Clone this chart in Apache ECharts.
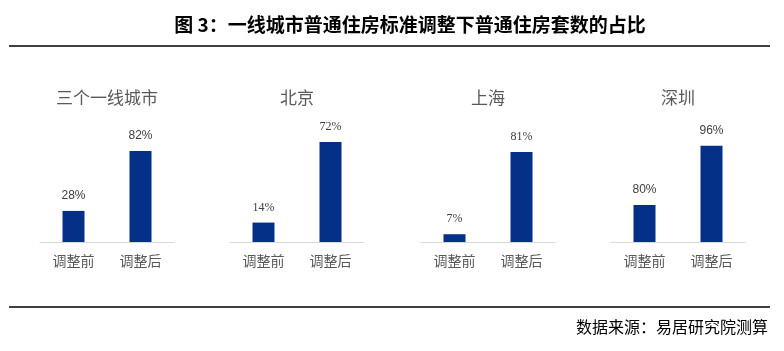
<!DOCTYPE html>
<html>
<head>
<meta charset="utf-8">
<script src="https://cdn.jsdelivr.net/npm/echarts@6/dist/echarts.min.js"></script>
<style>
  html, body { margin: 0; padding: 0; background: #fff; }
  #main { width: 784px; height: 351px; }
</style>
</head>
<body>
<div id="main"></div>
<script>
// 数据
var cities = ['三个一线城市', '北京', '上海', '深圳'];
var categories = ['调整前', '调整后'];
var beforeShare = [28, 14, 7, 80];
var afterShare = [82, 72, 81, 96];
var axisMin = [0, 0, 0, 70];
var axisMax = [100, 80, 100, 100];

// 每个小图的位置
var panelLeft = [40, 230, 421, 611];
var panelWidth = 134;
var labelFonts = ['Liberation Sans', 'Liberation Serif', 'Liberation Serif', 'Liberation Sans'];
var cjk = '"Noto Sans CJK SC", sans-serif';

var chart = echarts.init(document.getElementById('main'));

var grids = [], xAxes = [], yAxes = [], series = [], texts = [];
for (var i = 0; i < cities.length; i++) {
  grids.push({ left: panelLeft[i], top: 131, width: panelWidth, height: 111 });
  xAxes.push({
    type: 'category',
    gridIndex: i,
    data: categories,
    axisLine: { lineStyle: { color: '#d9d9d9', width: 1 } },
    axisTick: { show: false },
    axisLabel: { color: '#595959', fontSize: 14, fontFamily: cjk, margin: 12 }
  });
  yAxes.push({
    type: 'value',
    gridIndex: i,
    min: axisMin[i],
    max: axisMax[i],
    show: false,
    splitLine: { show: false }
  });
  series.push({
    type: 'bar',
    xAxisIndex: i,
    yAxisIndex: i,
    barWidth: 22,
    data: [beforeShare[i], afterShare[i]],
    itemStyle: { color: '#053088' },
    label: {
      show: true,
      position: 'top',
      distance: 9,
      formatter: '{c}%',
      color: '#404040',
      fontSize: 12,
      fontFamily: labelFonts[i]
    },
    silent: true
  });
  texts.push({
    type: 'text',
    x: panelLeft[i] + panelWidth / 2,
    y: 98,
    style: {
      text: cities[i],
      fill: '#595959',
      font: '17px ' + cjk,
      textAlign: 'center',
      textVerticalAlign: 'middle'
    }
  });
}

// 标题、分隔线、数据来源
texts.push({
  type: 'text', x: 410, y: 25,
  style: {
    text: '图 3：一线城市普通住房标准调整下普通住房套数的占比',
    fill: '#000', font: 'bold 19px ' + cjk,
    textAlign: 'center', textVerticalAlign: 'middle'
  }
});
texts.push({
  type: 'line', shape: { x1: 9, y1: 46, x2: 770, y2: 46 },
  style: { stroke: '#000', lineWidth: 1.5 }
});
texts.push({
  type: 'line', shape: { x1: 9, y1: 307, x2: 770, y2: 307 },
  style: { stroke: '#000', lineWidth: 1.5 }
});
texts.push({
  type: 'text', x: 768, y: 327,
  style: {
    text: '数据来源：易居研究院测算',
    fill: '#000', font: '16px ' + cjk,
    textAlign: 'right', textVerticalAlign: 'middle'
  }
});

chart.setOption({
  animation: false,
  backgroundColor: '#fff',
  grid: grids,
  xAxis: xAxes,
  yAxis: yAxes,
  series: series,
  graphic: texts
});
</script>
</body>
</html>
